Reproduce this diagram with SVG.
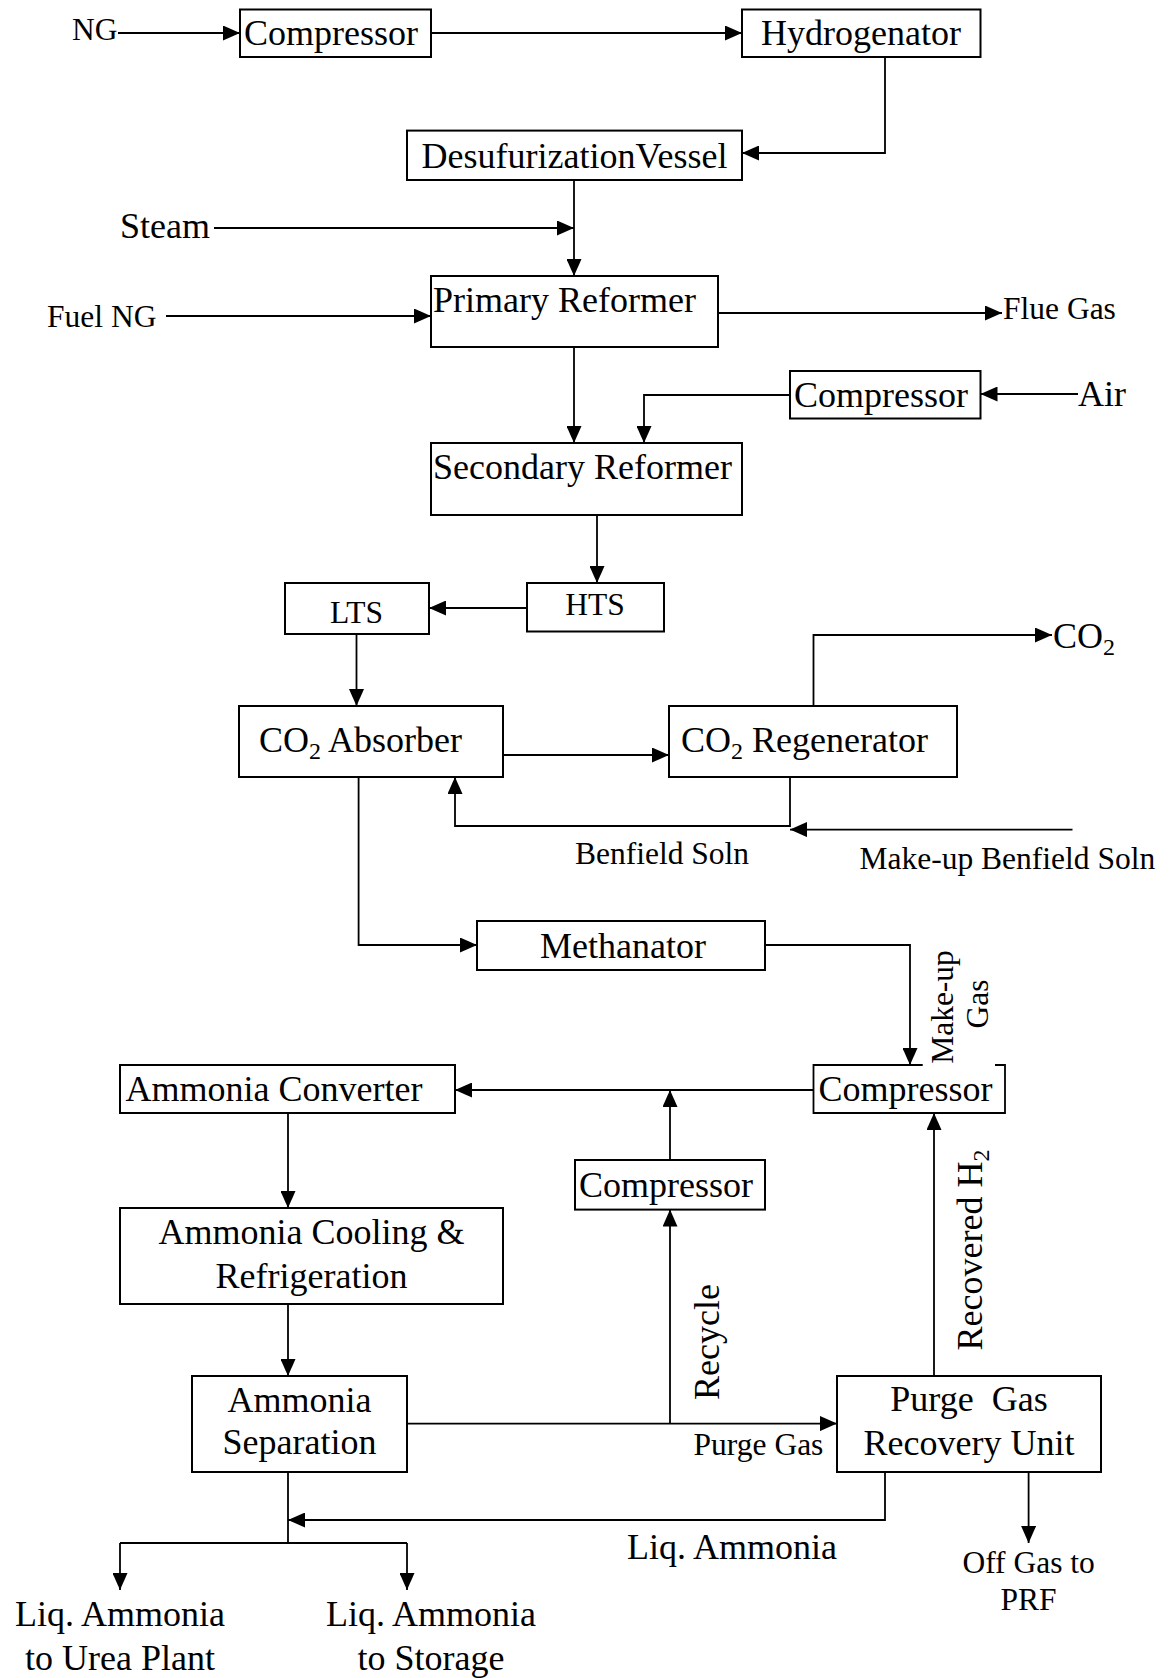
<svg xmlns="http://www.w3.org/2000/svg" width="1170" height="1678" viewBox="0 0 1170 1678">
  <style>
    .box { fill: #fff; stroke: #000; stroke-width: 2; }
    .edge { fill: none; stroke: #000; stroke-width: 1.8; marker-end: url(#arrow); }
    .line { fill: none; stroke: #000; stroke-width: 1.8; }
    text { font-family: "Liberation Serif", "Times New Roman", serif; fill: #000; }
    .lg { font-size: 36px; }
    .sm { font-size: 31.5px; }
    .mid { text-anchor: middle; }
  </style>
  <defs>
    <marker id="arrow" markerUnits="userSpaceOnUse" markerWidth="18" markerHeight="15" refX="17" refY="7.5" orient="auto">
      <path d="M0,0 L17,7.5 L0,15 Z" fill="#000"/>
    </marker>
  </defs>
  <rect width="1170" height="1678" fill="#fff"/>

  <!-- connectors -->
  <g id="connectors">
    <path class="edge" d="M118,33 H240"/>
    <path class="edge" d="M431,33 H742"/>
    <path class="edge" d="M885,57 V153 H742"/>
    <path class="edge" d="M574,180 V276"/>
    <path class="edge" d="M214,228 H574"/>
    <path class="edge" d="M166,316 H431"/>
    <path class="edge" d="M718,313 H1002"/>
    <path class="edge" d="M574,347 V443"/>
    <path class="edge" d="M1078,394 H980.5"/>
    <path class="edge" d="M790,395 H644 V443"/>
    <path class="edge" d="M597,515 V583"/>
    <path class="edge" d="M527,608 H429"/>
    <path class="edge" d="M356.5,634 V706"/>
    <path class="edge" d="M503,755 H669"/>
    <path class="edge" d="M813.5,706 V635 H1052"/>
    <path class="edge" d="M790,777 V826 H455 V777"/>
    <path class="edge" d="M1072.5,829.6 H790"/>
    <path class="edge" d="M358.6,777 V945 H477"/>
    <path class="edge" d="M765,945 H910 V1065"/>
    <path class="edge" d="M813.5,1090 H455"/>
    <path class="edge" d="M670,1160 V1090"/>
    <path class="edge" d="M670,1423.6 V1209.6"/>
    <path class="edge" d="M934,1376 V1113"/>
    <path class="edge" d="M288,1113 V1208"/>
    <path class="edge" d="M288,1304 V1376"/>
    <path class="edge" d="M407,1423.6 H837"/>
    <path class="edge" d="M885,1472 V1520 H288"/>
    <path class="line" d="M288,1472 V1543"/>
    <path class="line" d="M120,1543 H407"/>
    <path class="edge" d="M120,1543 V1590"/>
    <path class="edge" d="M407,1543 V1590"/>
    <path class="edge" d="M1028.6,1472 V1543"/>
  </g>

  <!-- process units -->
  <g id="compressor-ng">
    <rect class="box" x="240" y="9.5" width="191" height="47.5"/>
    <text class="lg mid" x="331" y="45">Compressor</text>
  </g>
  <g id="hydrogenator">
    <rect class="box" x="742" y="9.5" width="238.5" height="47.5"/>
    <text class="lg mid" x="861" y="45">Hydrogenator</text>
  </g>
  <g id="desulfurization-vessel">
    <rect class="box" x="407" y="130.6" width="335" height="49.4"/>
    <text class="lg mid" x="574.5" y="168">DesufurizationVessel</text>
  </g>
  <g id="primary-reformer">
    <rect class="box" x="431" y="276" width="287" height="71"/>
    <text class="lg" x="433" y="312">Primary Reformer</text>
  </g>
  <g id="compressor-air">
    <rect class="box" x="790" y="371" width="190.5" height="47.5"/>
    <text class="lg mid" x="881" y="407">Compressor</text>
  </g>
  <g id="secondary-reformer">
    <rect class="box" x="431" y="443" width="311" height="72"/>
    <text class="lg" x="433" y="479">Secondary Reformer</text>
  </g>
  <g id="hts">
    <rect class="box" x="527" y="583" width="137" height="48.5"/>
    <text class="sm mid" x="595" y="615">HTS</text>
  </g>
  <g id="lts">
    <rect class="box" x="285" y="583" width="144" height="51"/>
    <text class="sm mid" x="356.5" y="623">LTS</text>
  </g>
  <g id="co2-absorber">
    <rect class="box" x="239" y="706" width="264" height="71"/>
    <text class="lg" x="259" y="752">CO<tspan font-size="24" dy="7">2</tspan><tspan dy="-7"> Absorber</tspan></text>
  </g>
  <g id="co2-regenerator">
    <rect class="box" x="669" y="706" width="288" height="71"/>
    <text class="lg" x="681" y="752">CO<tspan font-size="24" dy="7">2</tspan><tspan dy="-7"> Regenerator</tspan></text>
  </g>
  <g id="methanator">
    <rect class="box" x="477" y="921" width="288" height="49"/>
    <text class="lg mid" x="623" y="958">Methanator</text>
  </g>
  <g id="compressor-syngas">
    <path fill="#fff" stroke="none" d="M813.5,1065 H1005 V1113 H813.5 Z"/>
    <path class="line" stroke-width="2" d="M922.7,1065 H813.5 V1113 H1005 V1065 H995"/>
    <text class="lg mid" x="905.5" y="1101">Compressor</text>
  </g>
  <g id="ammonia-converter">
    <rect class="box" x="120" y="1065" width="335" height="48"/>
    <text class="lg mid" x="274" y="1101">Ammonia Converter</text>
  </g>
  <g id="compressor-recycle">
    <rect class="box" x="575" y="1160" width="190" height="49.6"/>
    <text class="lg mid" x="666" y="1197">Compressor</text>
  </g>
  <g id="ammonia-cooling">
    <rect class="box" x="120" y="1208" width="383" height="96"/>
    <text class="lg mid" x="311.5" y="1244">Ammonia Cooling &amp;</text>
    <text class="lg mid" x="311.5" y="1288">Refrigeration</text>
  </g>
  <g id="ammonia-separation">
    <rect class="box" x="192" y="1376" width="215" height="96"/>
    <text class="lg mid" x="299.5" y="1412">Ammonia</text>
    <text class="lg mid" x="299.5" y="1454">Separation</text>
  </g>
  <g id="purge-gas-recovery">
    <rect class="box" x="837" y="1376" width="264" height="96"/>
    <text class="lg mid" x="969" y="1411" xml:space="preserve">Purge  Gas</text>
    <text class="lg mid" x="969" y="1455">Recovery Unit</text>
  </g>

  <!-- stream labels -->
  <g id="labels">
    <text class="sm" x="72" y="40">NG</text>
    <text class="lg" x="120" y="238">Steam</text>
    <text class="sm" x="47" y="327">Fuel NG</text>
    <text class="sm" x="1003" y="319">Flue Gas</text>
    <text class="lg" x="1078" y="406">Air</text>
    <text class="lg" x="1053" y="648">CO<tspan font-size="24" dy="7">2</tspan></text>
    <text class="sm" x="575" y="864">Benfield Soln</text>
    <text class="sm" x="859.5" y="869">Make-up Benfield Soln</text>
    <text class="sm mid" transform="translate(953,1007) rotate(-90)">Make-up</text>
    <text class="sm mid" transform="translate(988,1004) rotate(-90)">Gas</text>
    <text class="lg mid" transform="translate(719,1342) rotate(-90)">Recycle</text>
    <text class="lg mid" transform="translate(982,1250) rotate(-90)">Recovered H<tspan font-size="24" dy="7">2</tspan></text>
    <text class="sm" x="693.6" y="1455">Purge Gas</text>
    <text class="lg mid" x="732" y="1559">Liq. Ammonia</text>
    <text class="sm mid" x="1028.6" y="1573">Off Gas to</text>
    <text class="sm mid" x="1028.6" y="1610">PRF</text>
    <text class="lg mid" x="120" y="1626">Liq. Ammonia</text>
    <text class="lg mid" x="120" y="1670">to Urea Plant</text>
    <text class="lg mid" x="431" y="1626">Liq. Ammonia</text>
    <text class="lg mid" x="431" y="1670">to Storage</text>
  </g>
</svg>
